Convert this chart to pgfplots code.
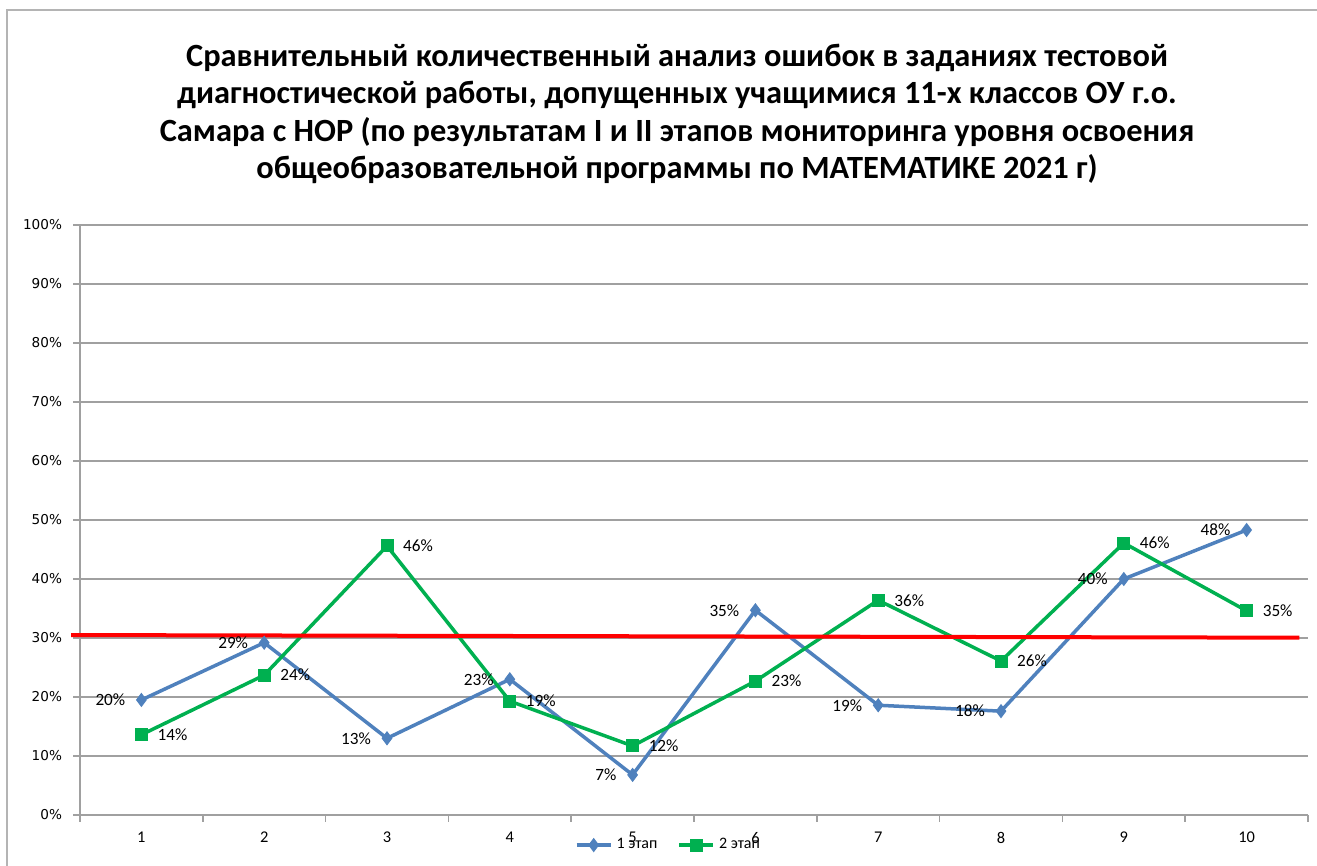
\documentclass[border=0pt]{standalone}
\usepackage{fontspec}
\setmainfont{Carlito}
\newfontfamily\dejavu{DejaVu Sans}
\usepackage{pgfplots}
\pgfplotsset{compat=1.18}
\definecolor{sblue}{HTML}{4F81BD}
\definecolor{sgreen}{HTML}{00B050}
\definecolor{gridgray}{HTML}{A0A0A0}
\definecolor{framegray}{HTML}{B4B4B4}
\begin{document}
\begin{tikzpicture}[x=1pt,y=1pt]
\useasboundingbox (-40,-25.5) rectangle (618.5,407.5);
\draw[framegray, line width=1pt] (-36.5,-40) -- (-36.5,402.5) -- (640,402.5);
\node[align=center, font=\bfseries\fontsize{16.2}{18.7}\selectfont] at (298.5,350.5)
 {Сравнительный количественный анализ ошибок в заданиях тестовой\\
 диагностической работы, допущенных учащимися 11-х классов ОУ г.о.\\
 Самара с НОР (по результатам I и II этапов мониторинга уровня освоения\\
 общеобразовательной программы по МАТЕМАТИКЕ 2021 г)};
\begin{axis}[
  scale only axis, width=614pt, height=295pt,
  at={(0,0)}, anchor=south west,
  xmin=0.5, xmax=10.5, ymin=0, ymax=100,
  clip=false,
  axis x line*=bottom, axis y line*=left,
  axis line style={gridgray, line width=0.8pt, -},
  xtick={0.5,1.5,...,10.5}, xticklabels={},
  extra x ticks={1,2,...,10},
  extra x tick labels={1,2,3,4,5,6,7,8,9,10},
  extra x tick style={major tick length=0pt},
  ytick={0,10,...,100},
  yticklabels={0\%,10\%,20\%,30\%,40\%,50\%,60\%,70\%,80\%,90\%,100\%},
  ymajorgrids, grid style={gridgray, line width=0.8pt},
  tick align=outside, major tick length=3.5pt,
  tick style={gridgray, line width=0.8pt},
  yticklabel style={font=\dejavu\fontsize{6.8}{8}\selectfont, text=black, xshift=-2pt},
  xticklabel style={font=\fontsize{8.2}{9}\selectfont, text=black, yshift=-5pt},
  legend style={at={(0.48,-0.051)}, anchor=center, draw=none, fill=none,
    legend columns=2, font=\fontsize{8}{9}\selectfont,
    /tikz/every even column/.append style={column sep=8pt}},
  legend cell align=left,
]
\addplot[sblue, line width=1.75pt, mark=diamond*, mark size=3.2pt,
  mark options={solid, fill=sblue, draw=sblue, line width=0.5pt},
  point meta=explicit symbolic, nodes near coords,
  every node near coord/.append style={anchor=east, xshift=-4.5pt, yshift=0pt,
    font=\fontsize{8.6}{9}\selectfont, text=black}]
  coordinates {(1,19.5)[20\%] (2,29.2)[29\%] (3,13.0)[13\%] (4,23.0)[23\%]
   (5,6.8)[7\%] (6,34.7)[35\%] (7,18.6)[19\%] (8,17.6)[18\%] (9,40.0)[40\%] (10,48.3)[48\%]};
\addlegendentry{1 этап}
\addplot[sgreen, line width=1.75pt, mark=square*, mark size=3pt,
  mark options={solid, fill=sgreen, draw=sgreen, line width=0.5pt},
  point meta=explicit symbolic, nodes near coords,
  every node near coord/.append style={anchor=west, xshift=4.5pt, yshift=0pt,
    font=\fontsize{8.6}{9}\selectfont, text=black}]
  coordinates {(1,13.6)[14\%] (2,23.7)[24\%] (3,45.6)[46\%] (4,19.3)[19\%]
   (5,11.7)[12\%] (6,22.7)[23\%] (7,36.4)[36\%] (8,26.1)[26\%] (9,46.1)[46\%] (10,34.6)[35\%]};
\addlegendentry{2 этап}
\addplot[red, line width=2pt, forget plot] coordinates {(0.427,30.5) (10.43,30.05)};
\end{axis}
\end{tikzpicture}
\end{document}
